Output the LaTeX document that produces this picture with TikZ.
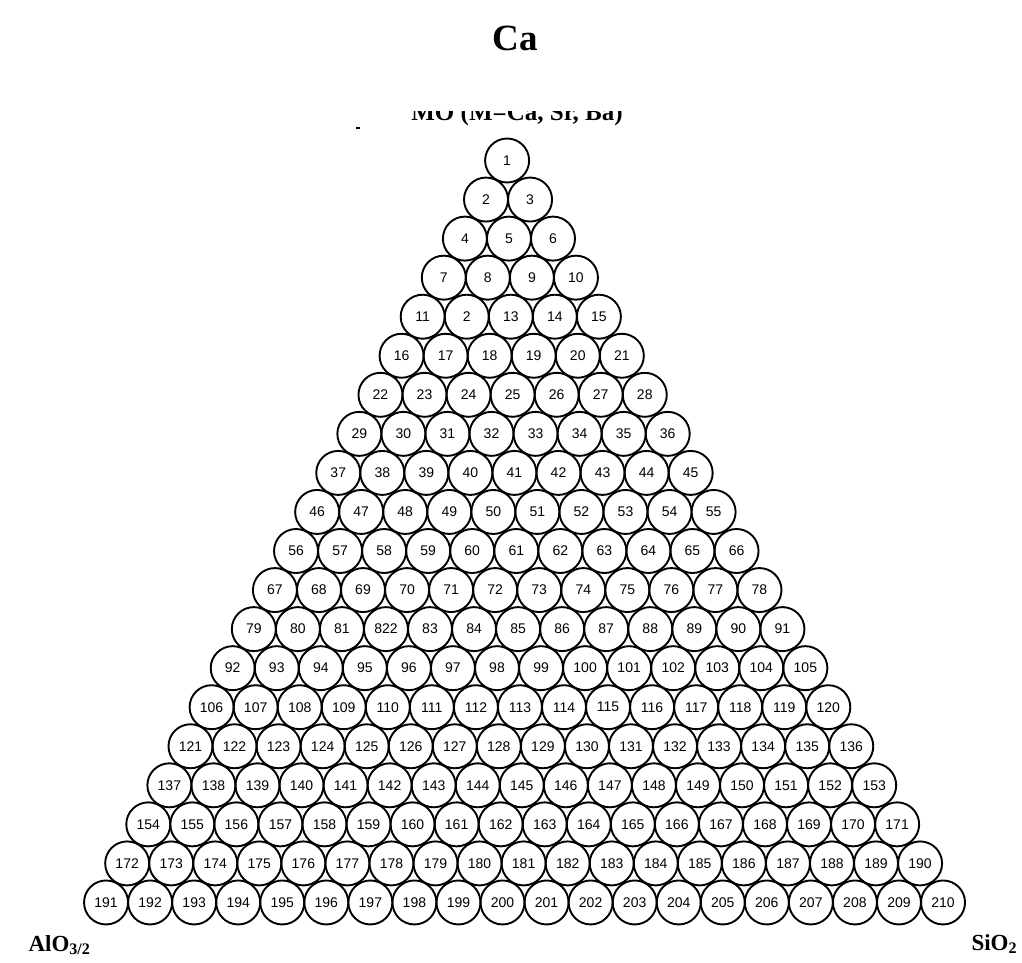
\documentclass[tikz,border=0pt]{standalone}
\usepackage{fontspec}
\setmainfont{Liberation Serif}
\newfontfamily\numfont{Liberation Sans}
\begin{document}
\begin{tikzpicture}[x=1pt,y=-1pt,
  ball/.style={circle,draw,line width=1.9pt,minimum size=44pt,inner sep=0pt,
    font=\numfont\fontsize{14}{14}\selectfont},
  titlelab/.style={font=\bfseries\fontsize{37}{40}\selectfont},
  cornerlab/.style={font=\bfseries\fontsize{23}{25}\selectfont}]
\useasboundingbox[fill=white] (0,0) rectangle (1022,962);
\node[titlelab,anchor=base] (ca) at (515,50) {Ca};
\begin{scope}
  \clip (380,111) rectangle (660,130);
  \node[font=\bfseries\fontsize{25}{27}\selectfont,anchor=base] (mo) at (517,120) {MO (M=Ca, Sr, Ba)};
\end{scope}
\coordinate (speck) at (358,128);
\fill (speck) +(-2,-1) rectangle +(2,1);
\foreach \r in {1,...,20} {
  \foreach \k in {1,...,\r} {
    \pgfmathtruncatemacro{\nn}{\r*(\r-1)/2+\k}
    \pgfmathsetmacro{\cx}{506.2+0.917*\r+(\k-(\r+1)/2)*44.05}
    \pgfmathsetmacro{\cy}{160.5+(\r-1)*39.05}
    \ifnum\nn=12 \def\lab{2}\else\ifnum\nn=82 \def\lab{822}\else\edef\lab{\nn}\fi\fi
    \node[ball] (c\nn) at (\cx,\cy) {\lab};
  }
}
\node[cornerlab,anchor=base west] (al) at (25,951) {AlO\textsubscript{3/2}};
\node[cornerlab,anchor=base west] (si) at (968,950) {SiO\textsubscript{2}};
\end{tikzpicture}
\end{document}
